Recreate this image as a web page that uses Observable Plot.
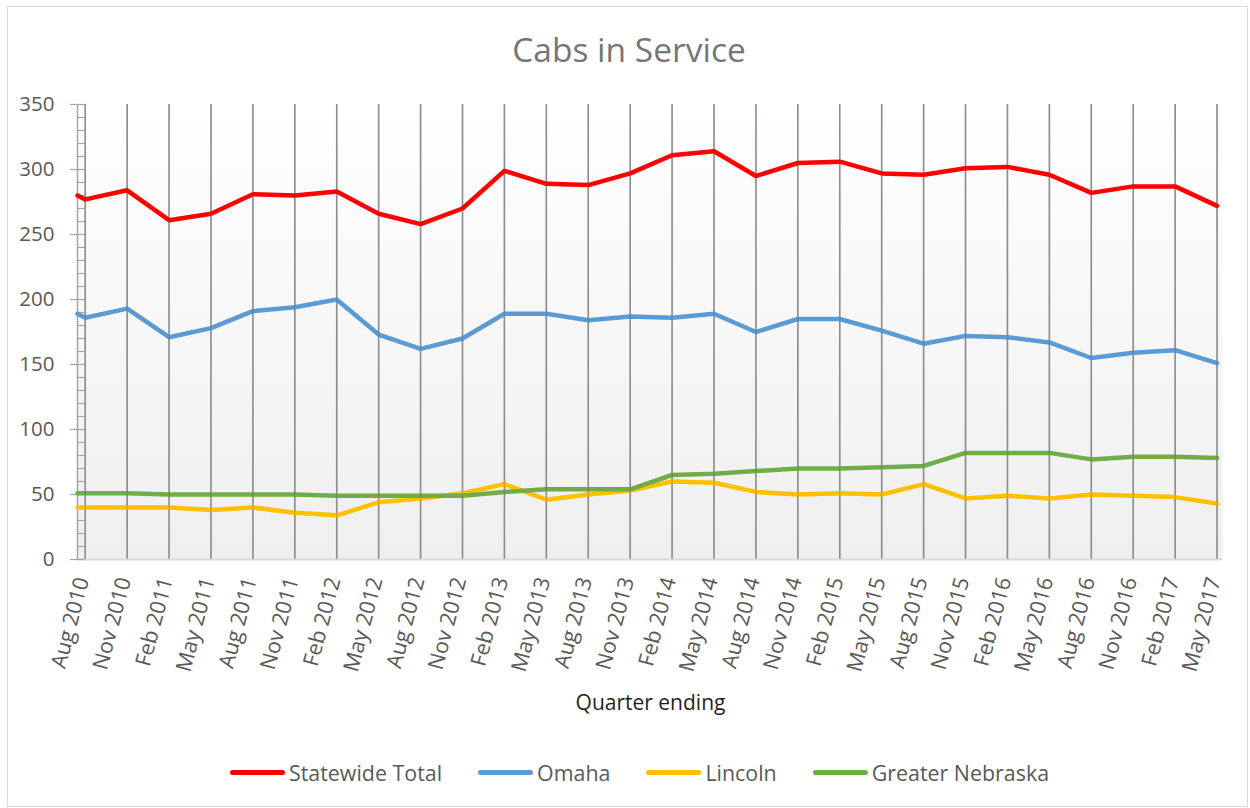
<!DOCTYPE html>
<html>
<head>
<meta charset="utf-8">
<script src="https://cdn.jsdelivr.net/npm/d3@7"></script>
<script src="https://cdn.jsdelivr.net/npm/@observablehq/plot@0.6"></script>
<style>
  body { margin: 0; background: #fff; font-family: "Open Sans", sans-serif; }
  #chart { position: relative; width: 1250px; height: 808px; overflow: hidden; background: #fff; }
  #border { position: absolute; left: 7px; top: 6px; width: 1239px; height: 799px; border: 1px solid #d9d9d9; }
  #title { position: absolute; left: 0; top: 33px; width: 1250px; padding-left: 8px; box-sizing: border-box;
           text-align: center; font-size: 33.5px; line-height: 33.5px; color: #767676; }
  #plot { position: absolute; left: 0; top: 0; }
  #xtitle { position: absolute; left: 0; top: 692px; width: 1250px; padding-left: 51px; box-sizing: border-box;
            text-align: center; font-size: 21px; line-height: 21px; color: #1f1f1f; }
  #legend { position: absolute; left: 0; top: 762px; width: 1250px; padding-left: 29px; box-sizing: border-box;
            display: flex; justify-content: center; align-items: center; gap: 36px;
            font-size: 21.4px; line-height: 21px; color: #595959; }
  .item { display: flex; align-items: center; }
  .sw { display: inline-block; width: 55px; height: 5px; border-radius: 2.5px; margin-right: 4px; }
</style>
</head>
<body>
<div id="chart">
  <div id="border"></div>
  <div id="plot"></div>
  <div id="title">Cabs in Service</div>
  <div id="xtitle">Quarter ending</div>
  <div id="legend"></div>
</div>
<script>
const quarters = ["Aug 2010","Nov 2010","Feb 2011","May 2011","Aug 2011","Nov 2011","Feb 2012","May 2012",
  "Aug 2012","Nov 2012","Feb 2013","May 2013","Aug 2013","Nov 2013","Feb 2014","May 2014","Aug 2014",
  "Nov 2014","Feb 2015","May 2015","Aug 2015","Nov 2015","Feb 2016","May 2016","Aug 2016","Nov 2016",
  "Feb 2017","May 2017"];
const seriesNames = ["Statewide Total", "Omaha", "Lincoln", "Greater Nebraska"];
const seriesColors = ["#ff0000", "#5b9bd5", "#ffc000", "#70ad47"];
const statewide = [277,284,261,266,281,280,283,266,258,270,299,289,288,297,311,314,295,305,306,297,296,301,302,296,282,287,287,272];
const omaha     = [186,193,171,178,191,194,200,173,162,170,189,189,184,187,186,189,175,185,185,176,166,172,171,167,155,159,161,151];
const lincoln   = [40,40,40,38,40,36,34,44,47,51,58,46,50,53,60,59,52,50,51,50,58,47,49,47,50,49,48,43];
const greater   = [51,51,50,50,50,50,49,49,49,49,52,54,54,54,65,66,68,70,70,71,72,82,82,82,77,79,79,78];
// value at the very start of each line (where it meets the vertical axis)
const leadIn    = [280, 189, 40, 51];
const yTicks = [0,50,100,150,200,250,300,350];
const yMinor = d3.range(0, 351, 10);

const allValues = [statewide, omaha, lincoln, greater];
const xDomain = [-0.184, 27.13];
const idx = quarters.map((_, i) => i);

const rows = seriesNames.flatMap((name, k) => [
  {x: xDomain[0], y: leadIn[k], s: name},
  ...allValues[k].map((v, i) => ({x: i, y: v, s: name}))
]);

const plot = Plot.plot({
  width: 1250, height: 690,
  marginLeft: 77, marginRight: 28, marginTop: 104, marginBottom: 131,
  x: {domain: xDomain, axis: null},
  y: {domain: [0, 350], axis: null},
  color: {domain: seriesNames, range: seriesColors},
  style: {fontFamily: "Open Sans", fontSize: "20px", background: "transparent", overflow: "visible"},
  marks: [
    Plot.frame({fill: "url(#bg)", stroke: "none"}),
    Plot.ruleX(idx, {x: d => d, y1: 0, y2: 350, stroke: "#a0a0a0", strokeWidth: 1.6}),
    Plot.ruleY([0], {stroke: "#d9d9d9", strokeWidth: 2}),
    Plot.ruleX([xDomain[0]], {y1: 0, y2: 350, stroke: "#a6a6a6", strokeWidth: 1.5}),
    Plot.ruleY(yMinor, {y: d => d, x1: xDomain[0], x2: 0, stroke: "#a6a6a6", strokeWidth: 1.2}),
    Plot.axisY({ticks: yTicks, tickSize: 7, tickPadding: 16, stroke: "#a6a6a6", strokeWidth: 1.2,
                fill: "#595959", fontSize: 20.5, tickFormat: d => String(d), label: null}),
    Plot.text(idx, {x: d => d, frameAnchor: "bottom", text: d => quarters[d], rotate: -75,
                    textAnchor: "end", dx: 4, dy: 20, fill: "#595959", fontSize: 21.5}),
    Plot.line(rows, {x: "x", y: "y", z: "s", stroke: "s", strokeWidth: 4.5,
                     strokeLinejoin: "round", strokeLinecap: "round"}),
    Plot.ruleX(idx, {x: d => d, y1: 0, y2: 350, stroke: "#555", strokeOpacity: 0.25, strokeWidth: 1.5})
  ]
});

const ns = "http://www.w3.org/2000/svg";
const defs = document.createElementNS(ns, "defs");
defs.innerHTML = '<linearGradient id="bg" x1="0" y1="0" x2="0" y2="1">' +
  '<stop offset="0" stop-color="#ffffff"/><stop offset="1" stop-color="#efefef"/></linearGradient>';
plot.insertBefore(defs, plot.firstChild);
document.getElementById("plot").appendChild(plot);

const legend = document.getElementById("legend");
seriesNames.forEach((name, k) => {
  const item = document.createElement("div");
  item.className = "item";
  const sw = document.createElement("span");
  sw.className = "sw";
  sw.style.background = seriesColors[k];
  const label = document.createElement("span");
  label.textContent = name;
  item.appendChild(sw);
  item.appendChild(label);
  legend.appendChild(item);
});
</script>
</body>
</html>
